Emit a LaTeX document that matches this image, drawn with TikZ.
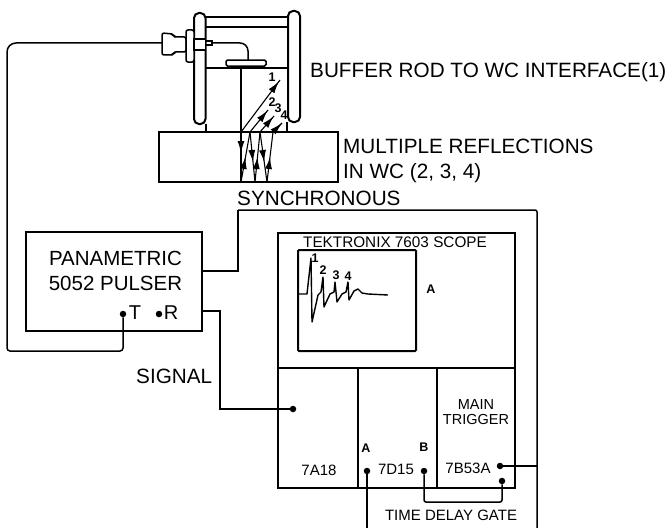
\documentclass[tikz,border=0pt]{standalone}
\usepackage{fontspec}
\setmainfont{Liberation Sans}
\usetikzlibrary{arrows.meta,decorations.markings}
\tikzset{
  ln/.style={line width=1.5pt,black},
  thick ln/.style={line width=2pt,black},
  lbl/.style={inner sep=0pt,anchor=west,font=\fontsize{20.7}{25}\selectfont},
  small/.style={inner sep=0pt,font=\fontsize{15}{15}\selectfont},
  bnum/.style={inner sep=0pt,font=\bfseries\fontsize{12.5}{13}\selectfont},
  dot/.style={circle,fill=black,inner sep=0pt,minimum size=6.5pt},
  ray/.style={line width=1.1pt,postaction={decorate},decoration={markings,mark=at position #1 with {\arrow{Latex[length=12pt,width=7pt]}}}},
  ray/.default=0.55
}
\begin{document}
\begin{tikzpicture}[x=1pt,y=-1pt]
\useasboundingbox (0,0) rectangle (671,527);
% transducer assembly
\draw[ln] (206,17) -- (288,17) (206,27) -- (288,27);
\draw[ln] (206,68) -- (287,68);
\draw[ln] (206,124) -- (206,132) (287,122) -- (287,132);
\draw[ln] (241,68) -- (241,132);
\draw[thick ln,rounded corners=5pt,fill=white] (194,13) rectangle (205.5,124);
\draw[thick ln,rounded corners=5pt,fill=white] (288,11) rectangle (300,122);
\node[draw,ln,rounded corners=1.5pt,minimum width=40pt,minimum height=6pt,inner sep=0pt,fill=white] (xd) at (246,63) {};
\draw[ln,rounded corners=2pt] (162,33) -- (173,34) -- (174,37) -- (186,37) -- (186,52) -- (174,52) -- (173,55) -- (162,55) -- cycle;
\draw[ln,fill=white,rounded corners=2pt] (186,30) rectangle (194,62);
\draw[ln,fill=white] (194,39) rectangle (205.5,50);
\draw[ln] (205.5,41) -- (212,41) -- (212,45) -- (205.5,45);
\coordinate (wirein) at (212,43);
\draw[ln,rounded corners=8pt] (wirein) -- (248,43) -- (248,60);
% WC block
\node[draw,thick ln,minimum width=179pt,minimum height=50pt,inner sep=0pt] (wc) at (248.5,157) {};
% rays
\draw[ray=0.97] (241,132) -- (280,80);
\draw[ray=0.97] (250,132) -- (268,110);
\draw[ray=0.97] (260,132) -- (274,116);
\draw[ray=0.97] (273,132) -- (282,123);
\draw[ray=0.42] (241,132) -- (241,182);
\draw[ray=0.5] (241,182) -- (250,132);
\draw[ray=0.6] (250,132) -- (255,182);
\draw[ray=0.5] (255,182) -- (260,132);
\draw[ray=0.6] (260,132) -- (267,182);
\draw[ray=0.5] (267,182) -- (273,132);
\node[bnum] at (272,77) {1};
\node[bnum] at (272,102) {2};
\node[bnum] at (278,108) {3};
\node[bnum] at (284,115) {4};
% labels
\node[lbl] (t1) at (310,72) {BUFFER ROD TO WC INTERFACE(1)};
\node[lbl,align=left] (t2) at (343,160.5) {MULTIPLE REFLECTIONS\\IN WC (2, 3, 4)};
\node[lbl] (t3) at (237,198) {SYNCHRONOUS};
\node[lbl] (t4) at (136,376) {SIGNAL};
% pulser
\node[draw,thick ln,minimum width=176pt,minimum height=99pt,inner sep=0pt] (pulser) at (114,281.5) {};
\node[inner sep=0pt,align=center,font=\fontsize{20.5}{25}\selectfont] (ptext) at (115.5,271) {PANAMETRIC\\5052 PULSER};
\node[dot] (T) at (123,314) {};
\node[dot] (R) at (159,314) {};
\node[inner sep=0pt,font=\fontsize{20}{20}\selectfont] (Tl) at (135,313) {T};
\node[inner sep=0pt,font=\fontsize{20}{20}\selectfont] (Rl) at (171,313) {R};
\coordinate (c1) at (7,351);
\coordinate (c2) at (7,43);
\draw[ln,rounded corners=3pt] (T) -- (123,351) -- (c1) -- (7,60);
\draw[ln,rounded corners=9pt] (7,60) -- (c2) -- (162,43);
% scope
\node[draw,thick ln,minimum width=237pt,minimum height=135pt,inner sep=0pt] (scope) at (396.5,300) {};
\node[inner sep=0pt,font=\fontsize{15.3}{15}\selectfont] (st) at (395,242) {TEKTRONIX 7603 SCOPE};
\node[draw,thick ln,minimum width=118pt,minimum height=101pt,inner sep=0pt,rounded corners=1pt] (screen) at (357,300.5) {};
\node[bnum] at (431,289) {A};
\draw[line width=1.4pt,line join=round] (299,294) -- (307,294) -- (311,258) -- (312,322) -- (318,295) -- (321,292) -- (323,277) -- (324,307) -- (330,294) -- (334,292) -- (335,282) -- (337,302) -- (342,294) -- (346,292) -- (348,282) -- (349,300) -- (354,291) -- (358,289) -- (362,293) -- (368,294) -- (388,295);
\node[bnum] at (315,258) {1};
\node[bnum] at (323,270) {2};
\node[bnum] at (336,275) {3};
\node[bnum] at (348,276) {4};
% modules
\node[draw,thick ln,minimum width=237pt,minimum height=120pt,inner sep=0pt] (mods) at (396.5,428) {};
\draw[ln] (358,368) -- (358,488) (437,368) -- (437,488);
\node[dot] (in) at (293,409) {};
\node[small] at (319,470) {7A18};
\node[small] at (396,469) {7D15};
\node[small] at (468,468) {7B53A};
\node[small,align=center,font=\fontsize{14.5}{15}\selectfont] at (476,412.5) {MAIN\\TRIGGER};
\node[bnum] at (366,448) {A};
\node[bnum] at (424,447) {B};
\node[dot] (a) at (367,471) {};
\node[dot] (b) at (424,471) {};
\node[dot] (trig) at (500,466) {};
\node[dot] (g) at (502,481) {};
\node[small] (gate) at (451,515) {TIME DELAY GATE};
% wires
\draw[ln] (pulser.east |- 0,271) -- (238,271) -- (238,210);
\draw[ln,rounded corners=2pt] (238,210) -- (537,210) -- (537,528);
\draw[ln] (a) -- (367,528);
\draw[ln] (trig) -- (537,466);
\draw[ln] (pulser.east |- 0,311) -- (220,311) -- (220,409) -- (in);
\draw[ln,rounded corners=2pt] (b) -- (424,502) -- (502,502) -- (g);
\end{tikzpicture}
\end{document}
